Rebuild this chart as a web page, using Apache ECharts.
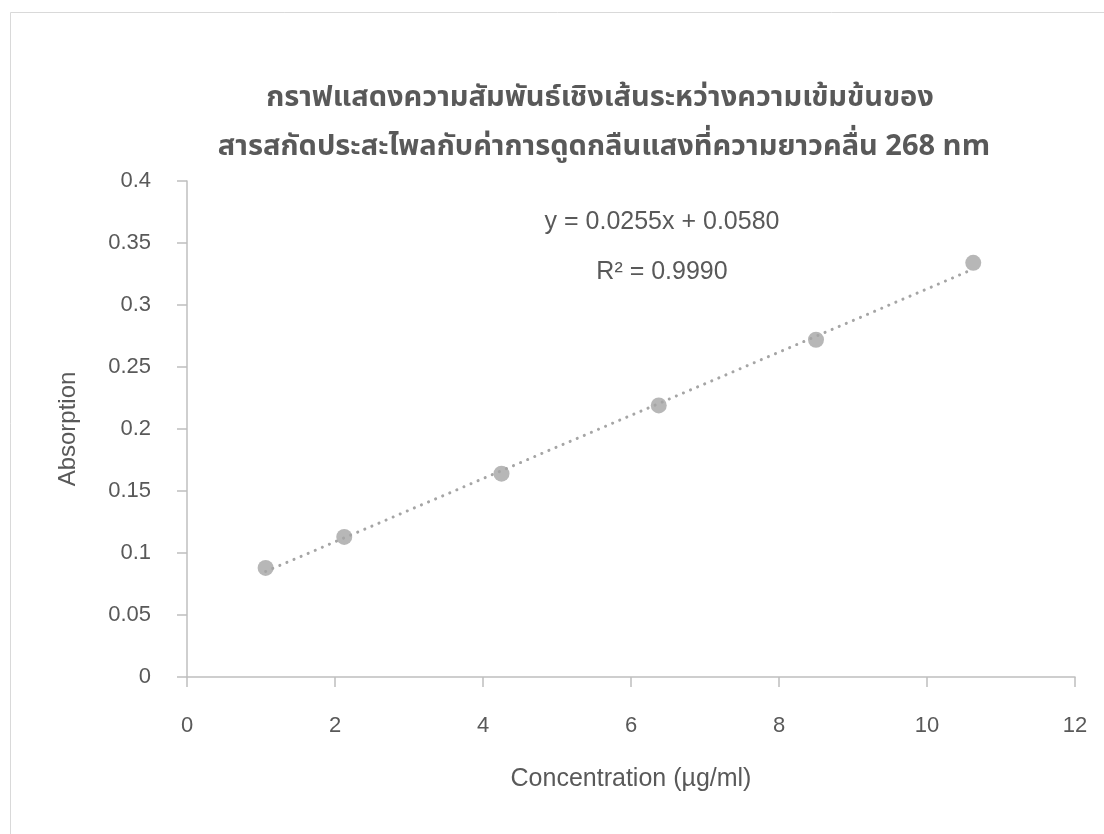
<!DOCTYPE html>
<html>
<head>
<meta charset="utf-8">
<script src="https://cdn.jsdelivr.net/npm/echarts@6/dist/echarts.min.js"></script>
<style>
  html, body { margin: 0; padding: 0; background: #ffffff; }
  #chart { width: 1104px; height: 834px; }
</style>
</head>
<body>
<div id="chart"></div>
<script>
// Standard curve data: extract concentration vs. absorbance at 268 nm
const concentration = [1.0625, 2.125, 4.25, 6.375, 8.5, 10.625];
const absorption = [0.088, 0.113, 0.164, 0.219, 0.272, 0.334];

// Linear regression reported for the curve
const slope = 0.0255;
const intercept = 0.0580;
const rSquared = '0.9990';

const titleLines = [
  'กราฟแสดงความสัมพันธ์เชิงเส้นระหว่างความเข้มข้นของ',
  'สารสกัดประสะไพลกับค่าการดูดกลืนแสงที่ความยาวคลื่น 268 nm'
];
const xAxisName = 'Concentration (µg/ml)';
const yAxisName = 'Absorption';

const points = concentration.map((x, i) => [x, absorption[i]]);
const xFirst = concentration[0];
const xLast = concentration[concentration.length - 1];
const trend = [
  [xFirst, slope * xFirst + intercept],
  [xLast, slope * xLast + intercept]
];

const textColor = '#595959';
const axisColor = '#bfbfbf';
const markColor = '#a5a5a5';
const font = '"Liberation Sans", Arial, sans-serif';
const thaiFont = '"Noto Sans Thai", "Noto Sans", "DejaVu Sans", sans-serif';

const chart = echarts.init(document.getElementById('chart'), null, { renderer: 'canvas' });

chart.setOption({
  backgroundColor: '#ffffff',
  animation: false,
  grid: { left: 187, right: 29, top: 181, bottom: 157 },
  graphic: [
    {
      type: 'rect',
      silent: true,
      shape: { x: 10.5, y: 12.5, width: 1200, height: 900 },
      style: { fill: 'none', stroke: '#d9d9d9', lineWidth: 1 },
      z: -10
    },
    {
      type: 'text',
      x: 600, y: 100,
      style: {
        text: titleLines[0], fill: textColor, font: 'bold 29px ' + thaiFont,
        align: 'center', verticalAlign: 'middle'
      }
    },
    {
      type: 'text',
      x: 604, y: 149,
      style: {
        text: titleLines[1], fill: textColor, font: 'bold 29px ' + thaiFont,
        align: 'center', verticalAlign: 'middle'
      }
    },
    {
      type: 'text',
      x: 662, y: 222,
      style: {
        text: 'y = ' + slope.toFixed(4) + 'x + ' + intercept.toFixed(4),
        fill: textColor, font: '25px ' + font, align: 'center', verticalAlign: 'middle'
      }
    },
    {
      type: 'text',
      x: 662, y: 272,
      style: {
        text: 'R² = ' + rSquared,
        fill: textColor, font: '25px ' + font, align: 'center', verticalAlign: 'middle'
      }
    }
  ],
  xAxis: {
    type: 'value',
    min: 0, max: 12, interval: 2,
    name: xAxisName,
    nameLocation: 'middle',
    nameGap: 90,
    nameTextStyle: { color: textColor, fontSize: 25, fontFamily: font },
    axisLine: { show: true, onZero: false, lineStyle: { color: axisColor, width: 1.5 } },
    axisTick: { show: true, length: 10, lineStyle: { color: axisColor, width: 1.5 } },
    axisLabel: { color: textColor, fontSize: 22, fontFamily: font, margin: 38 },
    splitLine: { show: false }
  },
  yAxis: {
    type: 'value',
    min: 0, max: 0.4, interval: 0.05,
    name: yAxisName,
    nameLocation: 'middle',
    nameGap: 107,
    nameRotate: 90,
    nameTextStyle: { color: textColor, fontSize: 24, fontFamily: font },
    axisLine: { show: true, lineStyle: { color: axisColor, width: 1.5 } },
    axisTick: { show: true, length: 10, lineStyle: { color: axisColor, width: 1.5 } },
    axisLabel: { color: textColor, fontSize: 22, fontFamily: font, margin: 36 },
    splitLine: { show: false }
  },
  series: [
    {
      name: 'Trendline',
      type: 'line',
      data: trend,
      symbol: 'none',
      silent: true,
      lineStyle: { color: markColor, width: 3, type: [0.1, 7.6], cap: 'round' },
      z: 1
    },
    {
      name: 'Absorption',
      type: 'scatter',
      data: points,
      symbol: 'circle',
      symbolSize: 16,
      itemStyle: { color: markColor },
      z: 2
    }
  ]
});
</script>
</body>
</html>
